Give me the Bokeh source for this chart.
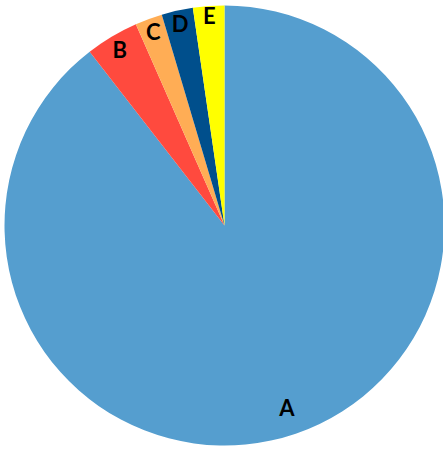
import math
from bokeh.plotting import figure
from bokeh.models import ColumnDataSource
from bokeh.core.properties import value
from bokeh.embed import file_html
from bokeh.resources import INLINE

# Data
categories = ["A", "B", "C", "D", "E"]
values = [89.5, 3.9, 2.0, 2.3, 2.3]
colors = ["#559ECF", "#FF4A3E", "#FFAD55", "#004F8C", "#FFFF00"]
label_r = [0.875, 0.93, 0.94, 0.94, 0.955]

W, H = 443, 449
cx, cy = 224, 225  # pie centre in plot pixels (from left, from top)
R = 220

total = sum(values)
starts, ends, mids = [], [], []
acc = 0.0
for v in values:
    a0 = math.pi / 2 - 2 * math.pi * acc / total
    acc += v
    a1 = math.pi / 2 - 2 * math.pi * acc / total
    starts.append(a0)
    ends.append(a1)
    mids.append((a0 + a1) / 2)

lx = [R * f * math.cos(m) for f, m in zip(label_r, mids)]
ly = [R * f * math.sin(m) for f, m in zip(label_r, mids)]

src = ColumnDataSource(dict(cat=categories, val=values, color=colors,
                            start=starts, end=ends, lx=lx, ly=ly))

p = figure(width=W, height=H, output_backend="svg", toolbar_location=None,
           x_range=(-cx, W - cx), y_range=(-(H - cy), cy),
           min_border=0, outline_line_color=None)
p.axis.visible = False
p.grid.visible = False
p.background_fill_color = "white"
p.border_fill_color = "white"

p.wedge(x=0, y=0, radius=R, start_angle="start", end_angle="end",
        direction="clock", fill_color="color", line_color=None, source=src)

p.text(x="lx", y="ly", text="cat", source=src, text_align="center",
       text_baseline="middle", text_font=value("Lato"),
       text_font_style="bold", text_font_size="22px", text_color="black")

open("out.html", "w").write(file_html(p, INLINE))
